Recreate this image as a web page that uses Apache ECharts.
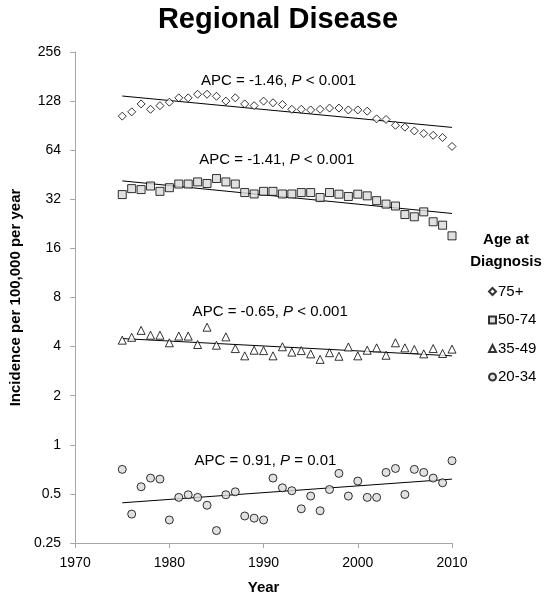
<!DOCTYPE html>
<html>
<head>
<meta charset="utf-8">
<script src="https://cdn.jsdelivr.net/npm/echarts@6/dist/echarts.min.js"></script>
<style>
html,body{margin:0;padding:0;background:#fff;}
#c{width:549px;height:600px;}
</style>
</head>
<body>
<div id="c"></div>
<script>
var years = [1975,1976,1977,1978,1979,1980,1981,1982,1983,1984,1985,1986,1987,1988,1989,1990,1991,1992,1993,1994,1995,1996,1997,1998,1999,2000,2001,2002,2003,2004,2005,2006,2007,2008,2009,2010];
var age75 = [103.5,110,123,114,120,126,134,134,141,141,137,128,134,123,120,128,125,122,114,114,113,114,116,116,113,113,111,99.6,98.8,91,88.6,84,81,79,76.6,67.5];
var age50 = [34.2,37.2,36.7,38.6,35.8,37.7,39.7,39.7,40.9,40.0,42.9,40.9,39.7,35.2,34.5,35.8,35.8,34.5,34.5,35.2,35.2,32.8,35.2,34.4,33.3,34.4,33.6,31.4,29.9,29.1,25.8,25.0,26.8,23.3,22.2,19.1];
var age35 = [4.38,4.56,5.03,4.70,4.70,4.22,4.64,4.64,4.12,5.26,4.08,4.59,3.89,3.51,3.80,3.78,3.51,3.99,3.70,3.78,3.61,3.34,3.67,3.49,3.98,3.51,3.80,3.93,3.54,4.22,3.93,3.84,3.61,3.89,3.63,3.86];
var age20 = [0.707,0.376,0.553,0.625,0.616,0.346,0.476,0.494,0.476,0.426,0.298,0.494,0.515,0.366,0.355,0.346,0.625,0.545,0.523,0.405,0.485,0.394,0.532,0.668,0.485,0.599,0.476,0.476,0.677,0.716,0.496,0.707,0.677,0.625,0.585,0.799];
// trend line values at first and last year
var trendYears = [1975, 2010];
var trend75 = [137.5, 88.3];
var trend50 = [41.5, 26.2];
var trend35 = [4.48, 3.51];
var trend20 = [0.441, 0.616];
var seriesNames = ['75+','50-74','35-49','20-34'];
var apcText = ['-1.46','-1.41','-0.65','0.91'];
var pText = ['< 0.001','< 0.001','< 0.001','= 0.01'];
// label anchors (data coords: year, value)
var labelAnchor = [[1991.6, 170.7],[1991.4, 56],[1990.7, 6.55],[1990.2, 0.80]];

function pairs(xs, ys){ return xs.map(function(x,i){ return [x, ys[i]]; }); }

var FONT = 'Liberation Sans, Arial, sans-serif';
var chart = echarts.init(document.getElementById('c'), null, {renderer:'canvas'});

var markerStyles = [
  {symbol:'diamond', size:8, color:'#ffffff'},
  {symbol:'rect', size:8, color:'#d9d9d9'},
  {symbol:'triangle', size:8, color:'#ffffff'},
  {symbol:'circle', size:8, color:'#d9d9d9'}
];
var dataSets = [age75, age50, age35, age20];
var trends = [trend75, trend50, trend35, trend20];

var series = [];
dataSets.forEach(function(d, i){
  series.push({
    name: seriesNames[i],
    type: 'scatter',
    data: pairs(years, d),
    symbol: markerStyles[i].symbol,
    symbolSize: markerStyles[i].size,
    itemStyle: {color: markerStyles[i].color, borderColor:'#000', borderWidth:1},
    emphasis: {disabled:true},
    z: 3
  });
});
trends.forEach(function(t, i){
  series.push({
    name: 'trend' + i,
    type: 'line',
    data: pairs(trendYears, t),
    showSymbol: false,
    symbol: 'none',
    lineStyle: {color:'#000', width:1},
    silent: true,
    z: 2
  });
});

chart.setOption({
  animation: false,
  backgroundColor: '#fff',
  title: {
    text: 'Regional Disease',
    left: 273, top: 0, textAlign: 'center',
    textStyle: {fontFamily: FONT, fontSize: 29, fontWeight: 'bold', color:'#000'}
  },
  grid: {left:70, right:97, top:52, bottom:53, containLabel:false},
  xAxis: {
    type: 'value', min:1970, max:2010, interval:10,
    name: 'Year', nameLocation:'middle', nameGap: 37,
    nameTextStyle: {fontFamily: FONT, fontSize: 15, fontWeight:'bold', color:'#000'},
    axisLine: {lineStyle:{color:'#a6a6a6', width:1}},
    axisTick: {show:true, length:5, lineStyle:{color:'#a6a6a6'}},
    axisLabel: {fontFamily: FONT, fontSize:14, color:'#000', margin:13,
      formatter: function(v){ return String(v); }},
    splitLine: {show:false}
  },
  yAxis: {
    type: 'log', logBase: 2, min:0.25, max:256, interval: 1,
    name: 'Incidence per 100,000 per year', nameLocation:'middle', nameGap: 50,
    nameTextStyle: {fontFamily: FONT, fontSize: 15, fontWeight:'bold', color:'#000'},
    axisLine: {show:true, lineStyle:{color:'#a6a6a6', width:1}},
    axisTick: {show:true, length:5, lineStyle:{color:'#a6a6a6'}},
    axisLabel: {fontFamily: FONT, fontSize:14, color:'#000', margin:14,
      formatter: function(v){ return String(Math.round(v*100)/100); }},
    splitLine: {show:false}
  },
  legend: {
    data: seriesNames,
    orient: 'vertical',
    left: 483, top: 279,
    itemWidth: 7, itemHeight: 7, itemGap: 13.5,
    textStyle: {fontFamily: FONT, fontSize:15, color:'#000', padding:[0,0,0,-3]},
    selectedMode: false
  },
  series: series
});

var g = [];
g.push({type:'text', x:506, y:240, style:{text:'Age at', font:'bold 15px ' + FONT, fill:'#000', align:'center', verticalAlign:'middle'}});
g.push({type:'text', x:506, y:262, style:{text:'Diagnosis', font:'bold 15px ' + FONT, fill:'#000', align:'center', verticalAlign:'middle'}});
labelAnchor.forEach(function(a, i){
  var p = chart.convertToPixel({gridIndex:0}, a);
  g.push({type:'text', x:p[0], y:p[1], style:{
    text: '{a|APC = ' + apcText[i] + ', }{i|P}{a| ' + pText[i] + '}',
    align:'center', verticalAlign:'middle',
    rich: {
      a: {fontFamily: FONT, fontSize:15, fill:'#000', color:'#000'},
      i: {fontFamily: FONT, fontSize:15, fontStyle:'italic', fill:'#000', color:'#000'}
    }
  }});
});
chart.setOption({graphic: g});
</script>
</body>
</html>
